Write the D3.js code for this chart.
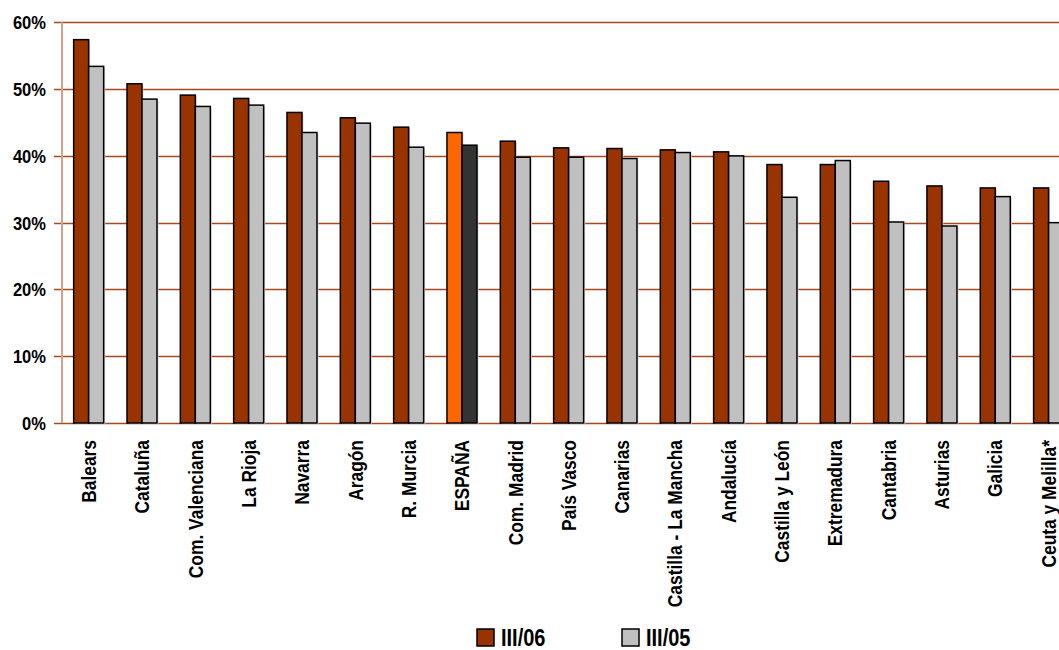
<!DOCTYPE html>
<html>
<head>
<meta charset="utf-8">
<script src="https://cdn.jsdelivr.net/npm/d3@7"></script>
<style>
  body { margin: 0; background: #fff; }
  svg { display: block; }
  text { font-family: "Liberation Sans Narrow", "Arial Narrow", "Liberation Sans", Arial, sans-serif; font-weight: bold; fill: #000; }
</style>
</head>
<body>
<div id="chart"></div>
<script>
const categories = ['Balears', 'Cataluña', 'Com. Valenciana', 'La Rioja', 'Navarra', 'Aragón', 'R. Murcia',
  'ESPAÑA', 'Com. Madrid', 'País Vasco', 'Canarias', 'Castilla - La Mancha', 'Andalucía', 'Castilla y León',
  'Extremadura', 'Cantabria', 'Asturias', 'Galicia', 'Ceuta y Melilla*'];
const series = ['III/06', 'III/05'];
const s2006 = [57.4, 50.8, 49.1, 48.6, 46.5, 45.7, 44.3, 43.5, 42.2, 41.2, 41.1, 40.9, 40.6, 38.7, 38.7, 36.2, 35.5, 35.2, 35.2];
const s2005 = [53.4, 48.5, 47.4, 47.6, 43.5, 44.9, 41.3, 41.6, 39.8, 39.8, 39.6, 40.5, 40.0, 33.8, 39.3, 30.1, 29.5, 33.9, 30.0];
const yTicks = [0, 10, 20, 30, 40, 50, 60];

const width = 1059, height = 650;
const x0 = 62, step = 53.33;
const narrow = 0.87; // no condensed face installed, so squeeze the text
const colors = { 'III/06': '#993300', 'III/05': '#C0C0C0' };
const highlight = { 'III/06': '#FF6600', 'III/05': '#333333' };

const svg = d3.select('#chart').append('svg')
  .attr('width', width).attr('height', height);

const x = d3.scaleBand()
  .domain(categories)
  .range([x0, x0 + step * categories.length])
  .paddingInner(0.4375)
  .paddingOuter(0.21875);
const xs = d3.scaleBand().domain(series).range([0, x.bandwidth()]);
const y = d3.scaleLinear().domain([0, 60]).range([423, 22.3]);

// gridlines
svg.append('g').selectAll('line')
  .data(yTicks)
  .enter().append('line')
  .attr('x1', x0 - 8).attr('x2', width)
  .attr('y1', d => Math.round(y(d)) + 0.5).attr('y2', d => Math.round(y(d)) + 0.5)
  .attr('stroke', '#A8481E')
  .attr('stroke-width', 1.3);

// left axis
svg.append('line')
  .attr('x1', x0).attr('x2', x0)
  .attr('y1', y(60)).attr('y2', y(0))
  .attr('stroke', '#D3A08A')
  .attr('stroke-width', 2);

svg.append('g').selectAll('text')
  .data(yTicks)
  .enter().append('text')
  .attr('transform', d => `translate(46,${y(d)}) scale(${narrow},1)`)
  .attr('dy', '0.36em')
  .attr('text-anchor', 'end')
  .style('font-size', '19px')
  .text(d => d + '%');

// bars
const rows = categories.map((c, i) => ({ c, vals: [s2006[i], s2005[i]] }));
const groups = svg.append('g').selectAll('g')
  .data(rows)
  .enter().append('g')
  .attr('transform', d => `translate(${x(d.c)},0)`);

groups.selectAll('rect.shadow')
  .data(d => series.map((s, j) => ({ s, v: d.vals[j], c: d.c })))
  .enter().append('rect')
  .attr('class', 'shadow')
  .attr('x', d => xs(d.s) + 1.5)
  .attr('y', d => y(d.v) + 1.5)
  .attr('width', xs.bandwidth())
  .attr('height', d => y(0) - y(d.v))
  .attr('fill', '#d8d8d8');

groups.selectAll('rect.bar')
  .data(d => series.map((s, j) => ({ s, v: d.vals[j], c: d.c })))
  .enter().append('rect')
  .attr('class', 'bar')
  .attr('x', d => xs(d.s))
  .attr('y', d => y(d.v))
  .attr('width', xs.bandwidth())
  .attr('height', d => y(0) - y(d.v))
  .attr('fill', d => d.c === 'ESPAÑA' ? highlight[d.s] : colors[d.s])
  .attr('stroke', '#000')
  .attr('stroke-width', 1.5);

// category labels
svg.append('g').selectAll('text')
  .data(categories)
  .enter().append('text')
  .attr('transform', d => `translate(${x(d) + x.bandwidth() / 2},440) rotate(-90) scale(${narrow},1)`)
  .attr('dy', '0.36em')
  .attr('text-anchor', 'end')
  .style('font-size', '20px')
  .text(d => d);

// legend
const legendX = [477, 622];
const legend = svg.append('g').selectAll('g')
  .data(series)
  .enter().append('g')
  .attr('transform', (d, i) => `translate(${legendX[i]},629)`);
legend.append('rect')
  .attr('width', 17).attr('height', 17)
  .attr('fill', d => colors[d])
  .attr('stroke', '#000')
  .attr('stroke-width', 1.5);
legend.append('text')
  .attr('transform', `translate(24,16.5) scale(${narrow},1)`)
  .style('font-size', '23px')
  .text(d => d);
</script>
</body>
</html>
